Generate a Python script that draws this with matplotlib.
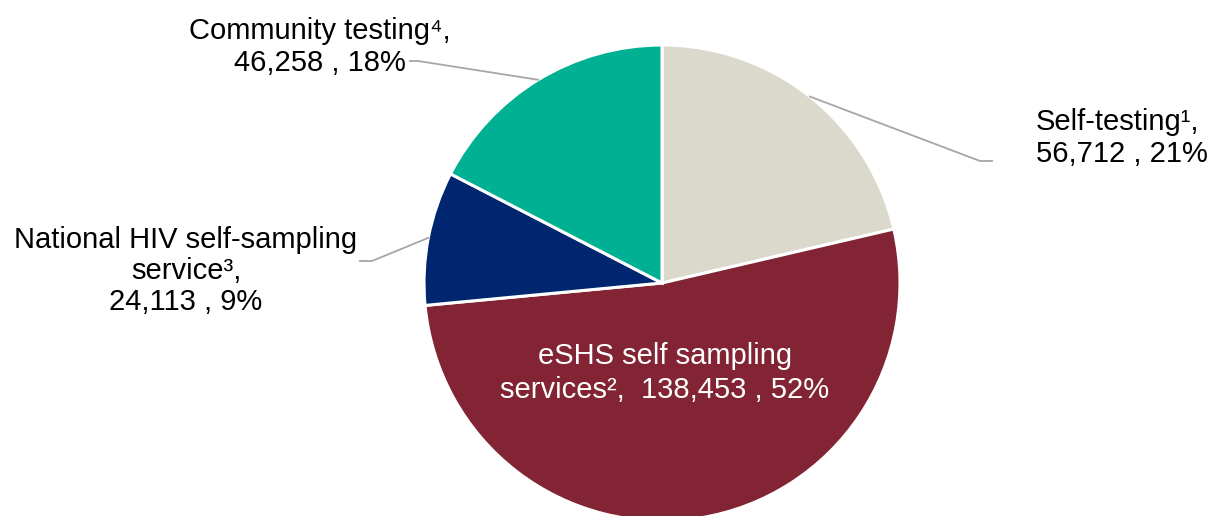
import matplotlib.pyplot as plt
import numpy as np

plt.rcParams['font.family'] = ['Liberation Sans', 'DejaVu Sans']

# data
categories = ["Self-testing¹", "eSHS self sampling\nservices²", "National HIV self-sampling\nservice³", "Community testing⁴"]
counts = [56712, 138453, 24113, 46258]
pct_labels = ["21%", "52%", "9%", "18%"]
colors = ["#DAD9CC", "#822433", "#00266F", "#00B092"]

fig = plt.figure(figsize=(12.11, 5.16), dpi=100)
ax = fig.add_axes([0, 0, 1, 1])

cx, cy, r = 662, 233, 238
wedges, _ = ax.pie(counts, colors=colors, startangle=90, counterclock=False,
                   center=(cx, cy), radius=r, frame=True,
                   wedgeprops=dict(edgecolor="white", linewidth=2.2))
ax.set_xlim(0, 1211)
ax.set_ylim(0, 516)
ax.axis("off")

def edge_point(w):
    ang = np.deg2rad((w.theta1 + w.theta2) / 2)
    return cx + r * np.cos(ang), cy + r * np.sin(ang)

fs = 21
line_col = "#A6A6A6"

# Self-testing
x0, y0 = edge_point(wedges[0])
ax.plot([x0, 980, 992], [y0, 516 - 161, 516 - 161], color=line_col, lw=1.3)
ax.text(1036, 516 - 138, f"{categories[0]},\n{counts[0]:,} , {pct_labels[0]}",
        ha="left", va="center", fontsize=fs, linespacing=1.15)

# eSHS (inside)
ax.text(665, 516 - 373, f"{categories[1]},  {counts[1]:,} , {pct_labels[1]}",
        ha="center", va="center", fontsize=fs, color="white", linespacing=1.27)

# National
x0, y0 = edge_point(wedges[2])
ax.plot([x0, 372, 360], [y0, 516 - 261, 516 - 261], color=line_col, lw=1.3)
ax.text(186, 516 - 271, f"{categories[2]},\n{counts[2]:,} , {pct_labels[2]}",
        ha="center", va="center", fontsize=fs, linespacing=1.15)

# Community
x0, y0 = edge_point(wedges[3])
ax.plot([x0, 418, 410], [y0, 516 - 61, 516 - 61], color=line_col, lw=1.3)
ax.text(320, 516 - 47, f"{categories[3]},\n{counts[3]:,} , {pct_labels[3]}",
        ha="center", va="center", fontsize=fs, linespacing=1.15)

fig.savefig("out.png", dpi=100)
